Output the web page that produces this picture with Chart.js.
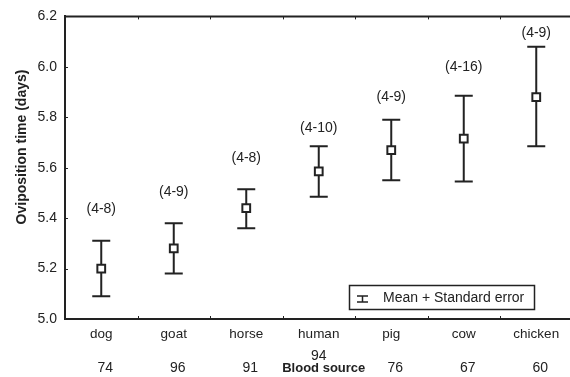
<!DOCTYPE html>
<html>
<head>
<meta charset="utf-8">
<script src="https://cdn.jsdelivr.net/npm/chart.js@4"></script>
<style>
  html, body { margin: 0; padding: 0; background: #fff; overflow: hidden; width: 570px; height: 377px; }
  canvas { display: block; }
</style>
</head>
<body>
<canvas id="ovipositionChart" width="580" height="377"></canvas>
<script>
const sources = ['dog', 'goat', 'horse', 'human', 'pig', 'cow', 'chicken']
const means = [5.20, 5.28, 5.44, 5.585, 5.67, 5.715, 5.88]
const upper = [5.31, 5.38, 5.515, 5.685, 5.79, 5.885, 6.08]
const lower = [5.09, 5.18, 5.36, 5.485, 5.55, 5.545, 5.685]
const ranges = ['(4-8)', '(4-9)', '(4-8)', '(4-10)', '(4-9)', '(4-16)', '(4-9)']
// height (in days) where each range label sits
const rangeAt = [5.436, 5.503, 5.638, 5.755, 5.879, 5.998, 6.133]
const counts = ['74', '96', '91', '94', '76', '67', '60']
const yTicks = [5.0, 5.2, 5.4, 5.6, 5.8, 6.0, 6.2]

const fontFamily = "'Liberation Sans', Arial, sans-serif"
const ink = '#222'

// error bars, range labels, counts row and the boxed legend
const extras = {
    id: 'extras',
    beforeDatasetsDraw(chart) {
        const ctx = chart.ctx
        const x = chart.scales.x
        const y = chart.scales.y
        ctx.save()
        ctx.strokeStyle = ink
        ctx.lineWidth = 2
        sources.forEach((s, i) => {
            const px = x.getPixelForValue(i)
            const top = y.getPixelForValue(upper[i])
            const bot = y.getPixelForValue(lower[i])
            ctx.beginPath()
            ctx.moveTo(px, top); ctx.lineTo(px, bot)
            ctx.moveTo(px - 9, top); ctx.lineTo(px + 9, top)
            ctx.moveTo(px - 9, bot); ctx.lineTo(px + 9, bot)
            ctx.stroke()
        })
        ctx.restore()
    },
    afterDraw(chart) {
        const ctx = chart.ctx
        const x = chart.scales.x
        const y = chart.scales.y
        const area = chart.chartArea
        ctx.save()
        ctx.fillStyle = ink
        ctx.textAlign = 'center'
        ctx.textBaseline = 'middle'
        ctx.font = '14px ' + fontFamily
        sources.forEach((s, i) => {
            const px = x.getPixelForValue(i)
            ctx.fillText(ranges[i], px, y.getPixelForValue(rangeAt[i]))
            if (s === 'human') {
                ctx.fillText(counts[i], px, 356)
            } else {
                ctx.fillText(counts[i], px + 4, 368)
            }
        })
        ctx.font = 'bold 13px ' + fontFamily
        ctx.fillText('Blood source', x.getPixelForValue(3) + 5, 368)

        // y title
        ctx.save()
        ctx.translate(22, 147)
        ctx.rotate(-Math.PI / 2)
        ctx.font = 'bold 14px ' + fontFamily
        ctx.fillText('Oviposition time (days)', 0, 0)
        ctx.restore()

        // small inward ticks
        ctx.strokeStyle = ink
        ctx.lineWidth = 1
        ctx.beginPath()
        for (let i = 1; i < sources.length; i++) {
            const bx = Math.round((x.getPixelForValue(i - 1) + x.getPixelForValue(i)) / 2) + 0.5
            ctx.moveTo(bx, area.top); ctx.lineTo(bx, area.top + 3)
            ctx.moveTo(bx, area.bottom); ctx.lineTo(bx, area.bottom - 3)
        }
        yTicks.slice(1, -1).forEach(v => {
            const py = Math.round(y.getPixelForValue(v)) + 0.5
            ctx.moveTo(area.left, py); ctx.lineTo(area.left + 3, py)
        })
        ctx.stroke()

        // top border
        ctx.lineWidth = 2
        ctx.beginPath()
        ctx.moveTo(area.left, area.top)
        ctx.lineTo(area.right, area.top)
        ctx.stroke()

        // legend box
        ctx.lineWidth = 1.5
        ctx.strokeRect(349.5, 285.5, 185, 24)
        ctx.beginPath()
        ctx.moveTo(357, 296); ctx.lineTo(368, 296)
        ctx.moveTo(362.5, 296); ctx.lineTo(362.5, 302)
        ctx.moveTo(357, 302); ctx.lineTo(368, 302)
        ctx.stroke()
        ctx.textAlign = 'left'
        ctx.font = '14px ' + fontFamily
        ctx.fillText('Mean + Standard error', 383, 298)
        ctx.restore()
    }
}

const ctx = document.getElementById('ovipositionChart').getContext('2d')
const ovipositionChart = new Chart(ctx, {
    type: 'line',
    data: {
        labels: sources,
        datasets: [{
            data: means,
            showLine: false,
            pointStyle: 'rect',
            pointRadius: 5.5,
            pointBorderWidth: 2,
            pointBackgroundColor: '#fff',
            pointBorderColor: ink
        }]
    },
    options: {
        responsive: false,
        animation: false,
        layout: { padding: { top: 16, right: 4, left: 0, bottom: 0 } },
        plugins: {
            legend: { display: false },
            tooltip: { enabled: false }
        },
        scales: {
            x: {
                type: 'category',
                offset: true,
                grid: { display: false, drawTicks: false },
                border: { display: true, color: ink, width: 2 },
                ticks: {
                    padding: 7,
                    color: ink,
                    font: { family: fontFamily, size: 13.5 }
                },
                afterFit(scale) { scale.height = 58 }
            },
            y: {
                min: 5.0,
                max: 6.2,
                afterBuildTicks(scale) { scale.ticks = yTicks.map(v => ({ value: v })) },
                grid: { display: false, drawTicks: false },
                border: { display: true, color: ink, width: 2 },
                ticks: {
                    padding: 8,
                    color: ink,
                    font: { family: fontFamily, size: 14 },
                    callback: v => Number(v).toFixed(1)
                },
                afterFit(scale) { scale.width = 65 }
            }
        }
    },
    plugins: [extras]
})
</script>
</body>
</html>
